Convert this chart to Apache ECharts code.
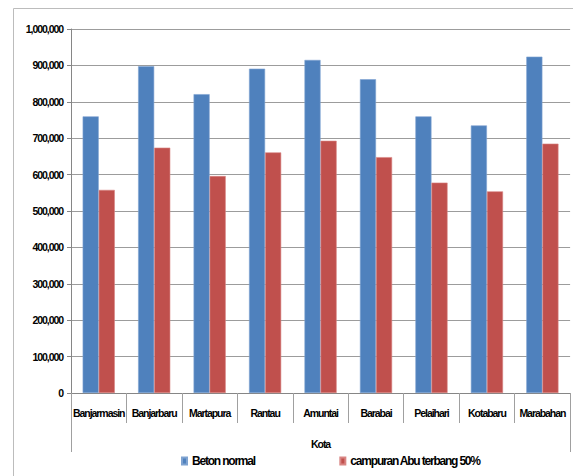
<!DOCTYPE html>
<html>
<head>
<meta charset="utf-8">
<script src="https://cdn.jsdelivr.net/npm/echarts@6/dist/echarts.min.js"></script>
<style>
  html, body { margin: 0; padding: 0; background: #fff; }
  #chart { width: 573px; height: 476px; }
  /* tighten the bold sans text so it reads like a narrow face */
  #chart svg text { letter-spacing: -0.1em; }
</style>
</head>
<body>
<div id="chart"></div>
<script>
// Cities (inner category level) and the outer grouping label
const cities = ['Banjarmasin', 'Banjarbaru', 'Martapura', 'Rantau', 'Amuntai', 'Barabai', 'Pelaihari', 'Kotabaru', 'Marabahan'];
const groupLabel = ['Kota'];

// Series values
const betonNormal = [760000, 898000, 821000, 891000, 915000, 862000, 760000, 735000, 924000];
const campuranAbu = [558000, 674000, 596000, 661000, 693000, 648000, 578000, 554000, 685000];

const seriesNames = ['Beton normal', 'campuran Abu terbang 50%'];

// Value axis ticks
const yMin = 0;
const yMax = 1000000;
const yStep = 100000;

const FONT = '"Liberation Sans", Arial, sans-serif';

const chart = echarts.init(document.getElementById('chart'), null, { renderer: 'svg' });

chart.setOption({
  animation: false,
  backgroundColor: '#ffffff',
  graphic: [{
    type: 'rect',
    shape: { x: 13.5, y: 8.5, width: 600, height: 500 },
    style: { fill: 'none', stroke: '#bcbcbc', lineWidth: 1 },
    silent: true,
    z: 0
  }],
  grid: { left: 71, right: 1, top: 29, bottom: 83, containLabel: false },
  legend: {
    data: seriesNames,
    left: 176,
    top: 450,
    icon: 'rect',
    itemWidth: 5,
    itemHeight: 7,
    itemGap: 70,
    textStyle: { fontFamily: FONT, fontSize: 12, fontWeight: 'bold', color: '#000' }
  },
  xAxis: [{
    type: 'category',
    data: cities,
    position: 'bottom',
    boundaryGap: true,
    axisLine: { show: true, lineStyle: { color: '#868686', width: 1 } },
    axisTick: { show: true, length: 30, lineStyle: { color: '#a0a0a0', width: 1 } },
    axisLabel: { interval: 0, margin: 14, fontFamily: FONT, fontSize: 10.5, fontWeight: 'bold', color: '#000' },
    splitLine: { show: false }
  }, {
    type: 'category',
    data: groupLabel,
    position: 'bottom',
    boundaryGap: true,
    axisLine: { show: false },
    axisTick: { show: true, length: 59, lineStyle: { color: '#a0a0a0', width: 1 } },
    axisLabel: { margin: 45, fontFamily: FONT, fontSize: 10.5, fontWeight: 'bold', color: '#000' }
  }],
  yAxis: {
    type: 'value',
    min: yMin,
    max: yMax,
    interval: yStep,
    axisLine: { show: true, lineStyle: { color: '#868686', width: 1 } },
    axisTick: { show: true, length: 4, lineStyle: { color: '#868686' } },
    axisLabel: {
      margin: 8,
      fontFamily: FONT,
      fontSize: 10.5,
      fontWeight: 'bold',
      color: '#000',
      formatter: v => v.toLocaleString('en-US')
    },
    splitLine: { show: true, lineStyle: { color: '#9c9c9c', width: 1 } }
  },
  series: [{
    name: seriesNames[0],
    type: 'bar',
    data: betonNormal,
    barGap: '0%',
    barCategoryGap: '42%',
    itemStyle: { color: '#4f81bd', borderColor: '#7fa3d1', borderWidth: 0.6 }
  }, {
    name: seriesNames[1],
    type: 'bar',
    data: campuranAbu,
    itemStyle: { color: '#c0504d', borderColor: '#d98583', borderWidth: 0.6 }
  }]
});
</script>
</body>
</html>
